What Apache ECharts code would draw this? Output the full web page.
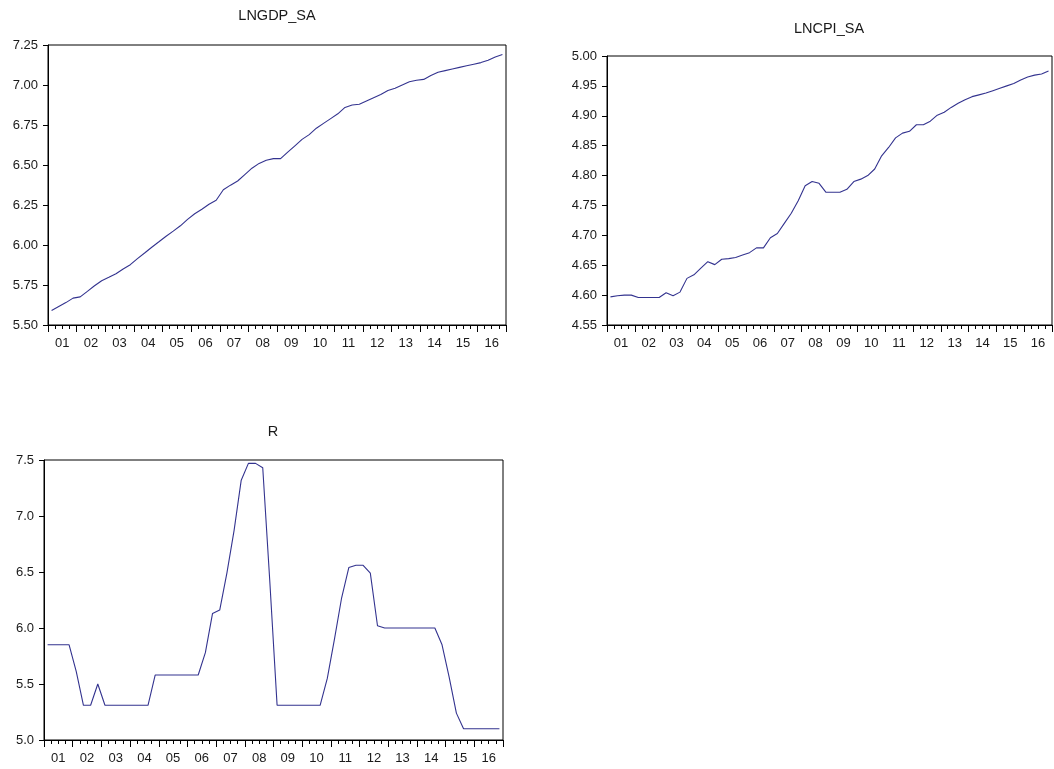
<!DOCTYPE html>
<html>
<head>
<meta charset="utf-8">
<script src="https://cdn.jsdelivr.net/npm/echarts@6/dist/echarts.min.js"></script>
<style>
html,body{margin:0;padding:0;background:#fff;}
#chart{width:1054px;height:769px;}
</style>
</head>
<body>
<div id="chart"></div>
<script>
// ---- data ----
const years = ['01','02','03','04','05','06','07','08','09','10','11','12','13','14','15','16'];
const quarterSuffix = ['Q1','Q2','Q3','Q4'];
const titles = ['LNGDP_SA', 'LNCPI_SA', 'R'];

const lngdp = [
  5.590, 5.615, 5.640, 5.668,
  5.676, 5.710, 5.745, 5.777,
  5.798, 5.820, 5.850, 5.877,
  5.915, 5.950, 5.986, 6.020,
  6.055, 6.087, 6.120, 6.160,
  6.195, 6.223, 6.255, 6.280,
  6.345, 6.374, 6.400, 6.440,
  6.480, 6.510, 6.530, 6.540,
  6.540, 6.580, 6.620, 6.660,
  6.690, 6.730, 6.760, 6.790,
  6.820, 6.860, 6.875, 6.880,
  6.900, 6.920, 6.940, 6.965,
  6.980, 7.000, 7.020, 7.030,
  7.035, 7.060, 7.080, 7.090,
  7.100, 7.110, 7.120, 7.130,
  7.140, 7.155, 7.175, 7.190
];

const lncpi = [
  4.597, 4.599, 4.600, 4.600,
  4.596, 4.596, 4.596, 4.596,
  4.604, 4.599, 4.605, 4.628,
  4.634, 4.645, 4.656, 4.651,
  4.660, 4.661, 4.663, 4.667,
  4.671, 4.679, 4.679, 4.696,
  4.703, 4.720, 4.737, 4.758,
  4.783, 4.790, 4.787, 4.772,
  4.772, 4.772, 4.777, 4.790,
  4.794, 4.800, 4.811, 4.833,
  4.847, 4.863, 4.871, 4.874,
  4.885, 4.885, 4.891, 4.901,
  4.906, 4.914, 4.921, 4.927,
  4.932, 4.935, 4.938, 4.942,
  4.946, 4.950, 4.954, 4.960,
  4.965, 4.968, 4.970, 4.975
];

const rate = [
  5.85, 5.85, 5.85, 5.85,
  5.61, 5.31, 5.31, 5.50,
  5.31, 5.31, 5.31, 5.31,
  5.31, 5.31, 5.31, 5.58,
  5.58, 5.58, 5.58, 5.58,
  5.58, 5.58, 5.78, 6.13,
  6.16, 6.49, 6.87, 7.32,
  7.47, 7.47, 7.43, 6.40,
  5.31, 5.31, 5.31, 5.31,
  5.31, 5.31, 5.31, 5.55,
  5.90, 6.27, 6.54, 6.56,
  6.56, 6.49, 6.02, 6.00,
  6.00, 6.00, 6.00, 6.00,
  6.00, 6.00, 6.00, 5.85,
  5.56, 5.24, 5.10, 5.10,
  5.10, 5.10, 5.10, 5.10
];

const yTicksGDP = {min: 5.50, max: 7.25, interval: 0.25, digits: 2};
const yTicksCPI = {min: 4.55, max: 5.00, interval: 0.05, digits: 2};
const yTicksR   = {min: 5.0,  max: 7.5,  interval: 0.5,  digits: 1};

// ---- build ----
const quarters = [];
years.forEach(y => quarterSuffix.forEach(q => quarters.push(y + q)));

const FONT = "'Liberation Sans', Arial, sans-serif";
const TXT = '#1a1a1a';
const LINE = '#33338f';

const grids = [
  {left: 48, top: 45, width: 458, height: 280},
  {left: 607, top: 56, width: 445, height: 269},
  {left: 44, top: 460, width: 459, height: 280}
];
const titlePos = [[277, 16], [829, 29], [273, 432]];
const yDefs = [yTicksGDP, yTicksCPI, yTicksR];
const seriesData = [lngdp, lncpi, rate];

const option = {
  backgroundColor: '#fff',
  animation: false,
  graphic: titles.map((t, i) => ({
    type: 'text', x: titlePos[i][0], y: titlePos[i][1],
    style: {text: t, font: '14.5px ' + FONT, fill: TXT, align: 'center', verticalAlign: 'middle'}
  })),
  grid: grids.map(g => Object.assign({show: true, borderColor: '#000', borderWidth: 1, backgroundColor: '#fff'}, g)),
  xAxis: [],
  yAxis: [],
  series: []
};

grids.forEach((g, i) => {
  // year axis: labels + long ticks
  option.xAxis.push({
    type: 'category', gridIndex: i, data: years, boundaryGap: true, position: 'bottom',
    axisLine: {show: true, lineStyle: {color: '#000', width: 1}},
    axisTick: {show: true, interval: 0, length: 7, lineStyle: {color: '#000', width: 1}},
    axisLabel: {show: true, interval: 0, margin: 12, fontSize: 13, fontFamily: FONT, color: TXT},
    splitLine: {show: false}
  });
  // quarter axis: short ticks, carries series
  option.xAxis.push({
    type: 'category', gridIndex: i, data: quarters, boundaryGap: true, position: 'bottom',
    axisLine: {show: false},
    axisTick: {show: true, interval: 0, length: 4, lineStyle: {color: '#000', width: 1}},
    axisLabel: {show: false},
    splitLine: {show: false}
  });
  const yd = yDefs[i];
  option.yAxis.push({
    type: 'value', gridIndex: i, min: yd.min, max: yd.max, interval: yd.interval,
    axisLine: {show: true, lineStyle: {color: '#000', width: 1}},
    axisTick: {show: true, length: 5, lineStyle: {color: '#000', width: 1}},
    axisLabel: {margin: 10, fontSize: 13, fontFamily: FONT, color: TXT,
      formatter: v => Number(v).toFixed(yd.digits)},
    splitLine: {show: false}
  });
  option.series.push({
    type: 'line', xAxisIndex: 2 * i + 1, yAxisIndex: i, data: seriesData[i],
    showSymbol: false, symbol: 'none', smooth: false,
    lineStyle: {color: LINE, width: 1.1}
  });
});

const chart = echarts.init(document.getElementById('chart'), null, {renderer: 'canvas'});
chart.setOption(option);
</script>
</body>
</html>
